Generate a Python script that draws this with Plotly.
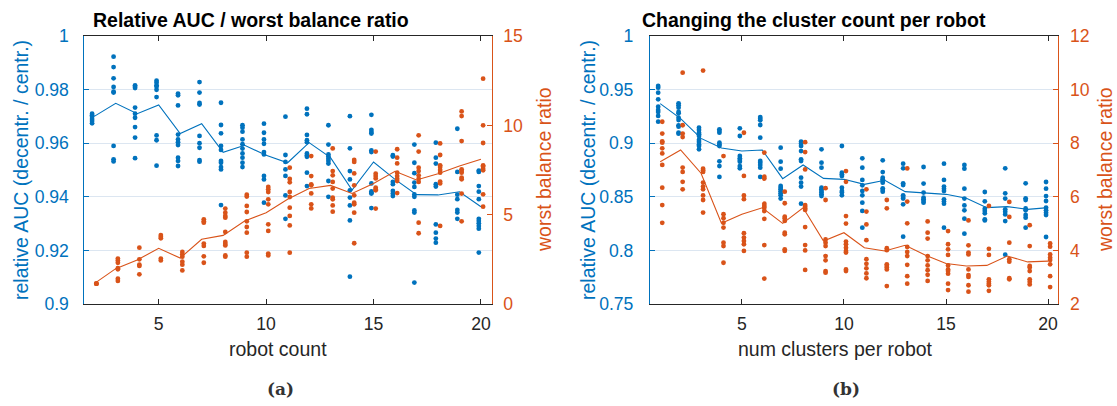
import plotly.graph_objects as go

W, H = 1117, 406
BLUE = '#0072BD'
ORANGE = '#D95319'
DARK = '#262626'
GRID = '#dce6f1'
FONT = 'Liberation Sans'

# ---------------- (a) robot count ----------------
robot_counts = list(range(2, 21))
auc_a = [
    [0.9710, 0.9704, 0.9699, 0.9690, 0.9683, 0.9674],
    [0.9923, 0.9884, 0.9842, 0.9810, 0.9792, 0.9789, 0.9590, 0.9540, 0.9532],
    [0.9816, 0.9811, 0.9806, 0.9733, 0.9710, 0.9695, 0.9660, 0.9621, 0.9544],
    [0.9833, 0.9826, 0.9816, 0.9811, 0.9799, 0.9772, 0.9629, 0.9611, 0.9516],
    [0.9785, 0.9779, 0.9741, 0.9632, 0.9614, 0.9604, 0.9593, 0.9546, 0.9534, 0.9515],
    [0.9828, 0.9789, 0.9750, 0.9744, 0.9627, 0.9600, 0.9583, 0.9537, 0.9531],
    [0.9751, 0.9668, 0.9637, 0.9590, 0.9575, 0.9534, 0.9527, 0.9511, 0.9502, 0.9369],
    [0.9667, 0.9658, 0.9643, 0.9614, 0.9596, 0.9580, 0.9562, 0.9546, 0.9527, 0.9511],
    [0.9673, 0.9639, 0.9614, 0.9598, 0.9567, 0.9558, 0.9478, 0.9465, 0.9378],
    [0.9699, 0.9556, 0.9530, 0.9502, 0.9478, 0.9405, 0.9318],
    [0.9729, 0.9708, 0.9631, 0.9611, 0.9604, 0.9562, 0.9555, 0.9549, 0.9490, 0.9440],
    [0.9667, 0.9595, 0.9558, 0.9550, 0.9542, 0.9534, 0.9524, 0.9459, 0.9400],
    [0.9701, 0.9581, 0.9496, 0.9465, 0.9424, 0.9397, 0.9368, 0.9312, 0.9102],
    [0.9706, 0.9650, 0.9642, 0.9636, 0.9573, 0.9567, 0.9450, 0.9420, 0.9415, 0.9412, 0.9358],
    [0.9555, 0.9550, 0.9456, 0.9447, 0.9422, 0.9412, 0.9403],
    [0.9595, 0.9527, 0.9488, 0.9453, 0.9437, 0.9409, 0.9400, 0.9349, 0.9341, 0.9080],
    [0.9602, 0.9546, 0.9524, 0.9447, 0.9438, 0.9297, 0.9266, 0.9244, 0.9229],
    [0.9654, 0.9493, 0.9408, 0.9391, 0.9351, 0.9341, 0.9318],
    [0.9498, 0.9493, 0.9440, 0.9419, 0.9391, 0.9318, 0.9310, 0.9301, 0.9291, 0.9281, 0.9192],
]
auc_a_mean = [0.9700, 0.9749, 0.9710, 0.9743, 0.9636, 0.9673, 0.9566, 0.9592, 0.9555, 0.9527,
              0.9602, 0.9546, 0.9425, 0.9530, 0.9465, 0.9408, 0.9407, 0.9419, 0.9363]
ratio_a = [
    [1.14, 1.14, 1.14],
    [2.54, 2.43, 2.31, 2.00, 1.94, 1.42, 1.29],
    [3.15, 2.50, 2.20, 2.13, 1.66],
    [3.86, 3.77, 3.68, 2.54, 2.44],
    [2.91, 2.78, 2.65, 2.37, 2.20, 1.88],
    [4.74, 4.63, 4.55, 3.38, 3.25, 2.67, 2.31],
    [5.34, 5.11, 4.93, 4.83, 4.03, 3.47, 3.36, 3.28, 2.72, 2.65],
    [6.12, 6.01, 5.49, 5.15, 4.63, 4.31, 3.99, 2.87, 2.65],
    [6.55, 6.42, 6.27, 5.86, 5.58, 4.46, 4.09, 2.82, 2.72],
    [7.63, 7.00, 6.81, 6.27, 5.99, 5.39, 4.93, 4.40, 2.87],
    [8.28, 7.16, 6.70, 6.64, 6.19, 5.58, 5.35],
    [8.71, 7.44, 7.20, 6.83, 6.46, 5.95, 5.86, 5.52, 5.17],
    [8.06, 7.95, 7.31, 6.64, 6.08, 5.67, 5.58, 5.11, 3.40],
    [8.53, 7.29, 7.16, 7.03, 6.51, 6.42, 6.36, 5.34],
    [8.66, 8.19, 7.87, 7.35, 7.16, 7.01, 6.88, 6.21],
    [9.44, 8.53, 7.63, 7.44, 7.20, 7.01, 6.83, 4.55, 3.96],
    [8.99, 8.34, 7.76, 7.67, 7.50, 7.35, 6.85, 6.75, 4.37],
    [10.78, 10.52, 9.12, 7.54, 7.44, 7.35, 7.07, 6.98, 6.18, 4.63],
    [12.61, 10.00, 9.01, 7.76, 7.69, 7.57, 7.48, 6.14, 5.45],
]
ratio_a_mean = [1.14, 1.98, 2.46, 3.12, 2.57, 3.62, 3.84, 4.65, 5.11, 5.86,
                6.46, 6.64, 6.19, 6.74, 7.43, 6.94, 7.29, 7.72, 8.10]

# ---------------- (b) clusters per robot ----------------
clusters = list(range(1, 21))
auc_b = [
    [0.9534, 0.9518, 0.9471, 0.9409, 0.9341, 0.9310, 0.9291, 0.9254, 0.9201],
    [0.9372, 0.9353, 0.9331, 0.9291, 0.9279, 0.9238, 0.9216, 0.9167, 0.9154, 0.9098, 0.9089],
    [0.9145, 0.9123, 0.9098, 0.9083, 0.9067, 0.9030, 0.9011, 0.8989, 0.8974, 0.8943],
    [0.9129, 0.9114, 0.9098, 0.9005, 0.8989, 0.8974, 0.8831, 0.8787, 0.8685],
    [0.9139, 0.9067, 0.8881, 0.8859, 0.8843, 0.8828, 0.8787, 0.8766],
    [0.9244, 0.9229, 0.9213, 0.9170, 0.9052, 0.8834, 0.8818, 0.8797, 0.8772, 0.8685],
    [0.8958, 0.8828, 0.8762, 0.8601, 0.8585, 0.8570, 0.8551, 0.8532, 0.8514, 0.8483],
    [0.9014, 0.8996, 0.8974, 0.8927, 0.8850, 0.8834, 0.8678, 0.8632, 0.8595, 0.8436],
    [0.8943, 0.8818, 0.8772, 0.8585, 0.8570, 0.8554, 0.8539, 0.8523, 0.8507],
    [0.8974, 0.8725, 0.8710, 0.8694, 0.8585, 0.8554, 0.8539, 0.8514],
    [0.8859, 0.8772, 0.8657, 0.8607, 0.8554, 0.8514, 0.8445, 0.8368, 0.8212],
    [0.8840, 0.8731, 0.8678, 0.8663, 0.8647, 0.8632, 0.8579, 0.8563, 0.8548],
    [0.8809, 0.8766, 0.8626, 0.8610, 0.8514, 0.8498, 0.8483, 0.8430, 0.8128],
    [0.8778, 0.8623, 0.8539, 0.8492, 0.8476, 0.8461, 0.8445],
    [0.8809, 0.8657, 0.8595, 0.8576, 0.8554, 0.8476, 0.8455, 0.8436, 0.8212],
    [0.8797, 0.8762, 0.8576, 0.8483, 0.8420, 0.8374, 0.8296, 0.8156],
    [0.8545, 0.8458, 0.8389, 0.8368, 0.8346, 0.8290, 0.8280],
    [0.8766, 0.8532, 0.8483, 0.8383, 0.8361, 0.8336, 0.8274, 0.7960],
    [0.8626, 0.8486, 0.8470, 0.8392, 0.8374, 0.8330, 0.8305, 0.8212],
    [0.8638, 0.8576, 0.8507, 0.8461, 0.8399, 0.8374, 0.8352, 0.8330, 0.8125],
]
auc_b_mean = [0.9369, 0.9229, 0.9045, 0.8955, 0.8927, 0.8937, 0.8669, 0.8797, 0.8672, 0.8663,
              0.8616, 0.8654, 0.8548, 0.8539, 0.8523, 0.8486, 0.8399, 0.8408, 0.8383, 0.8399]
ratio_b = [
    [8.80, 8.36, 8.07, 8.02, 7.81, 7.62, 7.19, 6.34, 5.69, 5.03],
    [10.63, 8.67, 8.36, 8.23, 7.09, 6.93, 6.56, 6.28],
    [10.71, 7.05, 6.99, 6.93, 6.53, 6.38, 6.28, 6.05, 5.88, 5.41],
    [7.52, 5.35, 5.20, 5.03, 4.85, 4.29, 4.16, 3.54],
    [8.39, 6.78, 6.05, 5.91, 4.64, 4.48, 4.35, 4.23, 3.98],
    [7.65, 6.75, 6.68, 5.74, 5.66, 5.59, 5.47, 5.18, 4.20, 2.95],
    [6.19, 5.76, 5.26, 5.20, 5.10, 4.66, 4.60, 4.04, 3.98],
    [8.04, 7.67, 7.02, 5.69, 5.63, 5.56, 5.51, 4.87, 4.20, 4.00, 3.27],
    [6.32, 5.88, 4.41, 4.29, 4.16, 3.79, 3.63, 3.23, 3.17],
    [6.96, 6.56, 5.28, 5.00, 4.33, 4.23, 4.10, 3.98, 3.92, 3.29, 3.23],
    [6.28, 5.45, 4.97, 4.38, 3.67, 3.50, 3.33, 3.14, 2.96],
    [5.88, 5.57, 4.08, 4.01, 3.48, 3.42, 3.36, 3.29, 2.67],
    [7.06, 5.82, 5.01, 4.13, 3.94, 3.79, 3.46, 3.04, 2.76],
    [5.08, 4.66, 4.44, 3.79, 3.63, 3.44, 3.26, 3.09, 2.86],
    [4.72, 4.23, 4.04, 3.83, 3.44, 3.29, 3.23, 3.13, 2.76, 2.52],
    [5.12, 4.19, 3.92, 3.85, 3.29, 3.08, 3.01, 2.70, 2.46],
    [5.66, 4.06, 3.83, 2.92, 2.83, 2.76, 2.70, 2.49],
    [5.81, 5.25, 4.29, 3.67, 3.58, 2.96, 2.92],
    [4.94, 4.16, 3.42, 3.36, 3.23, 2.92, 2.83, 2.73],
    [4.26, 4.14, 3.85, 3.73, 3.64, 3.48, 3.04, 2.63],
]
ratio_b_mean = [7.31, 7.75, 6.88, 5.01, 5.35, 5.59, 5.01, 5.59, 4.35, 4.66,
                4.10, 3.98, 4.19, 3.82, 3.51, 3.42, 3.44, 3.79, 3.57, 3.60]

# tick labels
yticks_a_left = [0.9, 0.92, 0.94, 0.96, 0.98, 1.0]
yticks_a_left_text = ['0.9', '0.92', '0.94', '0.96', '0.98', '1']
yticks_a_right = [0, 5, 10, 15]
yticks_b_left = [0.75, 0.8, 0.85, 0.9, 0.95, 1.0]
yticks_b_left_text = ['0.75', '0.8', '0.85', '0.9', '0.95', '1']
yticks_b_right = [2, 4, 6, 8, 10, 12]
xticks = [5, 10, 15, 20]


def flatten(xs, groups, shift):
    fx, fy = [], []
    for x, g in zip(xs, groups):
        for v in g:
            fx.append(x + shift)
            fy.append(v)
    return fx, fy


fig = go.Figure()
MS = 4.8


def add_panel(xs, auc, auc_mean, ratio, ratio_mean, xa, ya, ya2):
    bx, by = flatten(xs, auc, -0.1)
    ox, oy = flatten(xs, ratio, 0.1)
    fig.add_trace(go.Scatter(x=bx, y=by, mode='markers', xaxis=xa, yaxis=ya,
                             marker=dict(color=BLUE, size=MS, line=dict(width=0)), showlegend=False))
    fig.add_trace(go.Scatter(x=xs, y=auc_mean, mode='lines', xaxis=xa, yaxis=ya,
                             line=dict(color=BLUE, width=1.1), showlegend=False))
    fig.add_trace(go.Scatter(x=ox, y=oy, mode='markers', xaxis=xa, yaxis=ya2,
                             marker=dict(color=ORANGE, size=MS, line=dict(width=0)), showlegend=False))
    fig.add_trace(go.Scatter(x=xs, y=ratio_mean, mode='lines', xaxis=xa, yaxis=ya2,
                             line=dict(color=ORANGE, width=1.1), showlegend=False))


add_panel(robot_counts, auc_a, auc_a_mean, ratio_a, ratio_a_mean, 'x', 'y', 'y2')
add_panel(clusters, auc_b, auc_b_mean, ratio_b, ratio_b_mean, 'x2', 'y3', 'y4')

ydom = [1 - 304 / H, 1 - 36 / H]
dom_a = [83.5 / W, 491.7 / W]
dom_b = [650 / W, 1058.3 / W]
TF = 17.6
LF = 19.5


def xaxis(domain, rng, anchor):
    return dict(domain=domain, range=rng, anchor=anchor, tickvals=xticks,
                ticks='inside', ticklen=5, tickcolor=DARK, showline=True,
                linecolor=DARK, linewidth=1, mirror='ticks', showgrid=False,
                zeroline=False, automargin=False,
                tickfont=dict(family=FONT, size=TF, color=DARK),
                ticklabelstandoff=4)


def yleft(rng, anchor, tv, tt, standoff):
    return dict(domain=ydom, range=rng, anchor=anchor, tickvals=tv, ticktext=tt,
                ticks='inside', ticklen=5, tickcolor=BLUE, showline=True,
                linecolor=BLUE, linewidth=1.2, showgrid=True, gridcolor=GRID,
                gridwidth=1, zeroline=False, automargin=False,
                tickfont=dict(family=FONT, size=TF, color=BLUE), ticklabelstandoff=standoff)


def yright(rng, anchor, overlay, tv):
    return dict(range=rng, anchor=anchor, overlaying=overlay, side='right',
                tickvals=tv, ticks='inside', ticklen=5, tickcolor=ORANGE,
                showline=True, linecolor=ORANGE, linewidth=1.2, showgrid=False,
                zeroline=False, automargin=False,
                tickfont=dict(family=FONT, size=TF, color=ORANGE),
                ticklabelstandoff=7)


def px(x):
    return x / W


def py(y):
    return 1 - y / H


annots = [
    dict(text='<b>Relative AUC / worst balance ratio</b>', x=px(250.5), y=py(20),
         font=dict(family=FONT, size=LF, color='#000000')),
    dict(text='<b>Changing the cluster count per robot</b>', x=px(813.5), y=py(20),
         font=dict(family=FONT, size=LF, color='#000000')),
    dict(text='robot count', x=px(278), y=py(349), font=dict(family=FONT, size=LF, color=DARK)),
    dict(text='num clusters per robot', x=px(835.5), y=py(349), font=dict(family=FONT, size=LF, color=DARK)),
    dict(text='relative AUC (decentr. / centr.)', x=px(21), y=py(170), textangle=-90,
         font=dict(family=FONT, size=LF, color=BLUE)),
    dict(text='relative AUC (decentr. / centr.)', x=px(588), y=py(170), textangle=-90,
         font=dict(family=FONT, size=LF, color=BLUE)),
    dict(text='worst balance ratio', x=px(544), y=py(170), textangle=-90,
         font=dict(family=FONT, size=LF, color=ORANGE)),
    dict(text='worst balance ratio', x=px(1105), y=py(170), textangle=-90,
         font=dict(family=FONT, size=LF, color=ORANGE)),
    dict(text='<b>(a)</b>', x=px(280), y=py(389), font=dict(family='DejaVu Serif', size=17, color='#333333')),
    dict(text='<b>(b)</b>', x=px(846), y=py(389), font=dict(family='DejaVu Serif', size=17, color='#333333')),
]
for a in annots:
    a.update(xref='paper', yref='paper', showarrow=False, xanchor='center', yanchor='middle')

fig.update_layout(
    template='none',
    width=W, height=H, margin=dict(l=0, r=0, t=0, b=0, pad=0, autoexpand=False),
    paper_bgcolor='white', plot_bgcolor='white', showlegend=False,
    xaxis=xaxis(dom_a, [1.5, 20.5], 'y'),
    yaxis=yleft([0.9, 1.0], 'x', yticks_a_left, yticks_a_left_text, 10),
    yaxis2=yright([0, 15], 'x', 'y', yticks_a_right),
    xaxis2=xaxis(dom_b, [0.5, 20.5], 'y3'),
    yaxis3=yleft([0.75, 1.0], 'x2', yticks_b_left, yticks_b_left_text, 12),
    yaxis4=yright([2, 12], 'x2', 'y3', yticks_b_right),
    annotations=annots,
)

fig.write_html('out.html')
